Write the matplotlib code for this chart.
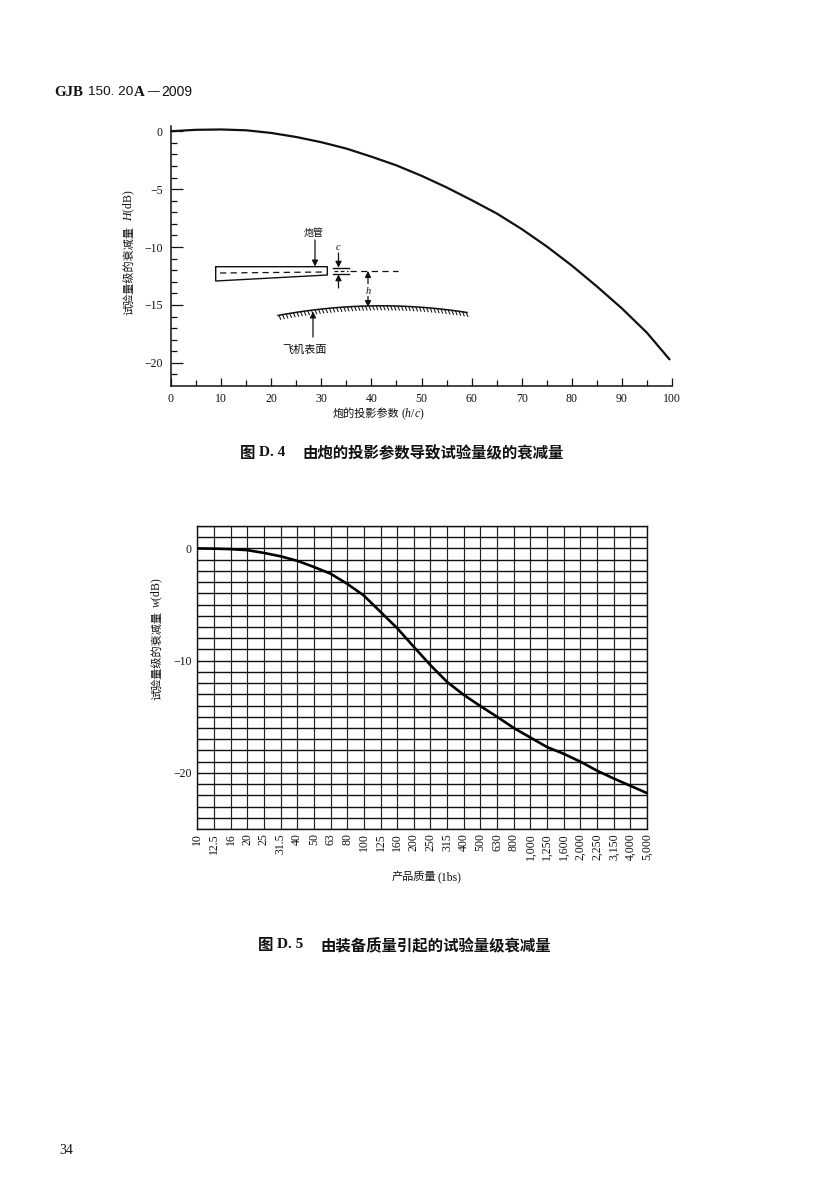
import numpy as np
import matplotlib
matplotlib.use("Agg")
import matplotlib.pyplot as plt

W, H = 824, 1196
SERIF = ['Liberation Serif', 'Noto Sans CJK SC', 'DejaVu Sans']
plt.rcParams['font.family'] = SERIF
plt.rcParams['mathtext.fontset'] = 'custom'
plt.rcParams['mathtext.it'] = 'Liberation Serif:italic'
plt.rcParams['mathtext.rm'] = 'Liberation Serif'

# ---- data: figure D.4
d4_x = [0, 5, 10, 15, 20, 25, 30, 35, 40, 45, 50, 55, 60, 65, 70, 75, 80, 85, 90, 95, 99.5]
d4_y = [0.0, 0.12, 0.15, 0.08, -0.15, -0.5, -0.95, -1.5, -2.2, -2.95, -3.85, -4.85, -5.95,
        -7.1, -8.45, -9.95, -11.6, -13.4, -15.3, -17.4, -19.7]
d4_xticks = [0, 10, 20, 30, 40, 50, 60, 70, 80, 90, 100]
d4_xminor = [5, 15, 25, 35, 45, 55, 65, 75, 85, 95]
d4_yticks = [0, -5, -10, -15, -20]
d4_yminor = [-1, -2, -3, -4, -6, -7, -8, -9, -11, -12, -13, -14, -16, -17, -18, -19, -21]

# ---- data: figure D.5
d5_labels = ['10', '12.5', '16', '20', '25', '31.5', '40', '50', '63', '80', '100', '125', '160',
             '200', '250', '315', '400', '500', '630', '800', '1,000', '1,250', '1,600', '2,000',
             '2,250', '3,150', '4,000', '5,000']
d5_y = [0.0, -0.02, -0.06, -0.15, -0.4, -0.7, -1.1, -1.65, -2.25, -3.15, -4.2, -5.65, -7.1,
        -8.77, -10.4, -11.9, -13.05, -14.05, -15.0, -16.0, -16.85, -17.7, -18.3, -19.0,
        -19.8, -20.5, -21.15, -21.8]
d5_yticks = [0, -10, -20]

fig = plt.figure(figsize=(W / 100, H / 100), dpi=100, facecolor='white')


def ax_px(l, t, r, b):
    return fig.add_axes([l / W, 1 - b / H, (r - l) / W, (b - t) / H], facecolor='none')


INK = '#111111'

# ---- top chart
a = ax_px(171, 126, 672, 386)
a.set_xlim(0, 100)
a.set_ylim(-22, 0.45)
a.plot(d4_x, d4_y, color=INK, lw=1.6, solid_capstyle='round', clip_on=False)
for s in ('top', 'right'):
    a.spines[s].set_visible(False)
for s in ('left', 'bottom'):
    a.spines[s].set_linewidth(1.1)
    a.spines[s].set_color(INK)
a.set_xticks(d4_xticks)
a.set_xticks(d4_xminor, minor=True)
a.set_yticks(d4_yticks)
a.set_yticks(d4_yminor, minor=True)
a.set_yticklabels(['0', '−5', '−10', '−15', '−20'])
a.tick_params(axis='x', which='major', direction='in', length=6, width=0.9, color=INK,
              labelsize=8.5, pad=5, labelcolor=INK)
a.tick_params(axis='x', which='minor', direction='in', length=4, width=0.9, color=INK)
a.tick_params(axis='y', which='major', direction='in', length=8.5, width=0.9, color=INK,
              labelsize=8.5, pad=6, labelcolor=INK)
a.tick_params(axis='y', which='minor', direction='in', length=4.3, width=0.9, color=INK)

# ---- bottom chart
b = ax_px(197.3, 526, 647, 829)
x5 = np.arange(len(d5_labels))
b.set_xlim(0, len(d5_labels) - 1)
b.set_ylim(-25, 2)
b.set_yticks(np.arange(-25, 3), minor=True)
b.set_yticks(d5_yticks)
b.set_yticklabels(['0', '−10', '−20'])
b.set_xticks(x5)
b.set_xticklabels(d5_labels, rotation=90)
b.grid(True, axis='y', which='both', color=INK, lw=1.0)
b.grid(True, axis='x', which='major', color='#222222', lw=0.85)
b.set_axisbelow(True)
b.plot(x5, d5_y, color='black', lw=1.9, solid_capstyle='round', zorder=5)
for s in b.spines.values():
    s.set_linewidth(1.0)
    s.set_color(INK)
b.tick_params(axis='both', which='both', length=0)
b.tick_params(axis='y', labelsize=8.5, pad=4, labelcolor=INK)
b.tick_params(axis='x', labelsize=8.5, pad=3, labelcolor=INK)

# ---- page overlay in pixel units
p = fig.add_axes([0, 0, 1, 1], facecolor='none')
p.set_xlim(0, W)
p.set_ylim(H, 0)
p.axis('off')

CJK = ['Noto Sans CJK SC']


def T(x, y, s, size=8, ha='center', va='center', **kw):
    p.text(x, y, s, fontsize=size, ha=ha, va=va, color=INK, **kw)


def arrow(x0, y0, x1, y1, style='-|>'):
    p.annotate('', xy=(x1, y1), xytext=(x0, y0),
               arrowprops=dict(arrowstyle=style, lw=0.9, color=INK, mutation_scale=9,
                               shrinkA=0, shrinkB=0))


# page header and number
T(54, 92, 'GJB', size=10.8, ha='left', fontweight='bold', family='Liberation Serif')
T(88, 92, '150. 20', size=9.7, ha='left', family='Liberation Sans')
T(134, 92, 'A', size=10.8, ha='left', fontweight='bold', family='Liberation Serif')
T(148, 92, '—', size=8.5, ha='left', family='Liberation Sans')
T(161, 92, '2009', size=10, ha='left', family='Liberation Sans')
T(66, 1151, '34', size=10)

# axis titles
T(129, 315, '试验量级的衰减量', rotation=90, va='bottom', family=CJK)
T(129, 221, '$H$(dB)', rotation=90, va='bottom', size=8.5)
T(333, 414, '炮的投影参数', ha='left', family=CJK)
T(401, 414, '($h$/$c$)', ha='left', size=8.5)
T(157, 700, '试验量级的衰减量', rotation=90, va='bottom', family=CJK)
T(157, 608, '$w$(dB)', rotation=90, va='bottom', size=8.5)
T(392, 877, '产品质量', ha='left', family=CJK)
T(438, 877, '(1bs)', ha='left', size=8.5)

# captions
T(240, 453, '图', size=11.1, ha='left', family=CJK, fontweight='bold')
T(259, 453, 'D. 4', size=11, ha='left', fontweight='bold', family='Liberation Serif')
T(302, 453, '由炮的投影参数导致试验量级的衰减量', size=11.1, ha='left',
  family=CJK, fontweight='bold')
T(258, 945, '图', size=11.1, ha='left', family=CJK, fontweight='bold')
T(277, 945, 'D. 5', size=11, ha='left', fontweight='bold', family='Liberation Serif')
T(320, 945, '由装备质量引起的试验量级衰减量', size=11.1, ha='left',
  family=CJK, fontweight='bold')

# barrel diagram
p.plot([215.7, 327.3, 327.3, 215.7, 215.7], [266.7, 266.7, 275, 281, 266.7], color=INK, lw=1.0)
p.plot([220, 325], [273, 272], color=INK, lw=0.9, dashes=(5, 3.5))
p.plot([350, 398], [271, 271], color=INK, lw=0.9, dashes=(5, 3.5))
p.plot([333, 349], [267.7, 267.7], color=INK, lw=1.0)
p.plot([333, 349], [274.3, 274.3], color=INK, lw=1.0)
p.plot([334, 348], [271, 271], color=INK, lw=0.9, dashes=(3, 2))
arrow(338.5, 253, 338.5, 267.7)
arrow(338.5, 288, 338.5, 274.3)
arrow(315, 240, 315, 266.5)
arrow(313, 337, 313, 311.5)
arrow(368, 291, 368, 271)
arrow(368, 291, 368, 307)
T(338.5, 248, '$c$', size=7.5)
p.text(368, 290, '$h$', fontsize=7.5, ha='center', va='center', color=INK,
       bbox=dict(fc='white', ec='none', pad=0.6))
T(314, 233, '炮管', size=7.2, family=CJK)
T(305, 350, '飞机表面', family=CJK)

# aircraft surface with hatching
sx = np.array([278.0, 313.0, 368.0, 467.0])
sy = np.array([315.5, 310.0, 306.0, 312.5])
coef = np.polyfit(sx, sy, 2)
xs = np.linspace(278, 467, 120)
p.plot(xs, np.polyval(coef, xs), color=INK, lw=1.1)
for hx in np.arange(279, 467, 3.6):
    hy = np.polyval(coef, hx)
    p.plot([hx, hx + 1.6], [hy, hy + 4], color=INK, lw=0.75)

fig.savefig('out.png', dpi=100, facecolor='white')
